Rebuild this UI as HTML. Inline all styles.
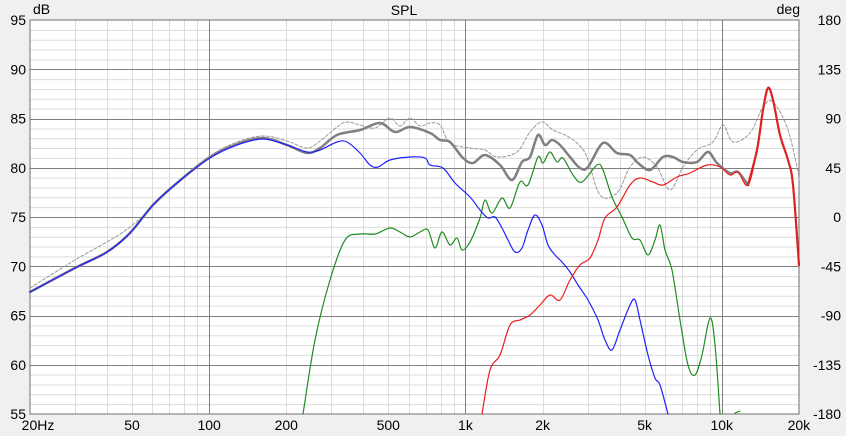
<!DOCTYPE html><html><head><style>body{margin:0;background:#f0f0f0}svg{display:block;font-family:"Liberation Sans",sans-serif}</style></head><body>
<svg id="s" width="846" height="436" xmlns="http://www.w3.org/2000/svg">
<rect x="0" y="0" width="846" height="436" fill="#f0f0f0"/>
<rect x="30" y="20" width="769" height="394" fill="#fff"/>
<g id="grid"></g>
<rect x="30" y="20" width="769" height="394" fill="none" stroke="#707070"/>
<g font-size="14" fill="#000">
<text x="404" y="15" text-anchor="middle">SPL</text>
<text x="33" y="14" font-size="14">dB</text>
<text x="800" y="14" text-anchor="end">deg</text>
</g>
<g id="lab" font-size="14"></g>
<g id="curves" fill="none" stroke-linejoin="round" stroke-linecap="round"></g>
</svg>
<script>
const g=document.getElementById('grid'),L=document.getElementById('lab'),C=document.getElementById('curves'),N='http://www.w3.org/2000/svg';
function ln(x1,y1,x2,y2,c){const l=document.createElementNS(N,'line');l.setAttribute('x1',x1);l.setAttribute('y1',y1);l.setAttribute('x2',x2);l.setAttribute('y2',y2);l.setAttribute('stroke',c);g.appendChild(l);}
function tx(x,y,t,a){const e=document.createElementNS(N,'text');e.setAttribute('x',x);e.setAttribute('y',y);e.setAttribute('text-anchor',a);e.textContent=t;L.appendChild(e);}
const X=f=>30+(Math.log10(f)-Math.log10(20))*256.3,Y=d=>20+(95-d)*9.85;
for(let d=56;d<95;d++){if(d%5)ln(30,Y(d)+.5,799,Y(d)+.5,'#dcdcdc');}
for(let dec=10;dec<=10000;dec*=10)for(let m=2;m<=9;m++){const f=dec*m;if(f>20&&f<20000)ln(Math.round(X(f))+.5,20,Math.round(X(f))+.5,414,'#dcdcdc');}
for(let d=60;d<95;d+=5)ln(30,Math.round(Y(d))+.5,799,Math.round(Y(d))+.5,'#808080');
[100,1000,10000].forEach(f=>ln(Math.round(X(f))+.5,20,Math.round(X(f))+.5,414,'#808080'));
for(let d=55;d<=95;d+=5)tx(26,Y(d)+5,d,'end');
for(let i=0;i<9;i++)tx(841,Y(95-i*5)+5,180-45*i,'end');
[[20,'20Hz'],[50,'50'],[100,'100'],[200,'200'],[500,'500'],[1000,'1k'],[2000,'2k'],[5000,'5k'],[10000,'10k'],[20000,'20k']].forEach(([f,t])=>tx(f==20?38:X(f),430,t,'middle'));
function curve(s,col,w,dash){const p=s.trim().split(/\s+/).map(q=>q.split(',').map(Number));let d='M'+p[0].join(',');
for(let i=0;i<p.length-1;i++){const p0=p[Math.max(0,i-1)],p1=p[i],p2=p[i+1],p3=p[Math.min(p.length-1,i+2)];
d+=` C${p1[0]+(p2[0]-p0[0])/6},${p1[1]+(p2[1]-p0[1])/6} ${p2[0]-(p3[0]-p1[0])/6},${p2[1]-(p3[1]-p1[1])/6} ${p2[0]},${p2[1]}`;}
const e=document.createElementNS(N,'path');e.setAttribute('d',d);e.setAttribute('stroke',col);e.setAttribute('stroke-width',w);if(dash)e.setAttribute('stroke-dasharray',dash);C.appendChild(e);}
curve("30,288 75,260 130,227 177,182 210,156 237,142 263,136 287,141 307,148 320,141 337,127 347,122 360,125 375,128 390,118 400,126 410,118 420,126 430,123 440,125 450,143 470,148 485,150 497,157 517,152 530,132 542,122 553,130 565,135 577,143 587,157 600,195 617,193 630,167 643,157 657,167 670,190 683,167 697,150 713,142 723,125 733,142 750,133 763,107 773,102 787,127 797,167 799,180","#999",1,"3,2");
curve("303,414 315,340 330,280 345,240 360,234 375,234 390,228 400,232 410,237 420,232 428,230 435,248 442,232 450,245 457,238 462,250 470,242 480,218 485,200 492,213 502,198 510,208 520,182 528,185 538,157 543,163 550,152 557,162 563,158 573,175 582,182 597,165 603,170 612,197 622,217 632,238 640,240 648,255 655,240 660,225 665,250 672,270 680,320 688,365 695,375 702,355 710,318 715,345 720,414","#228b22",1.2);
curve("735,413 740,411","#228b22",1.2);
curve("30,292 75,268 107,252 130,233 153,205 177,183 210,157 237,144 263,138 287,145 307,153 320,148 337,135 360,130 380,123 395,132 410,127 430,133 440,140 450,142 463,158 473,163 485,155 500,165 512,180 522,162 530,157 538,135 545,145 552,140 560,145 570,157 580,168 588,167 603,143 617,153 630,155 638,163 650,170 663,157 673,157 683,162 697,162 708,152 717,163 730,173 738,172 748,185","#808080",2.5);
curve("30,292 75,268 107,252 130,233 153,205 177,183 210,158 237,145 263,139 287,145 307,152 320,150 337,142 347,142 360,153 370,165 378,167 390,160 410,157 425,158 430,165 443,168 455,183 470,197 480,210 488,218 495,217 502,228 508,240 515,252 522,248 528,230 535,215 542,225 548,245 555,255 562,262 570,272 578,285 588,300 598,320 605,340 612,350 620,330 630,305 635,300 640,320 648,355 655,378 660,385 668,414","#2020ff",1.2);
curve("482,414 490,370 500,355 510,325 520,320 530,315 540,305 550,295 560,300 570,280 580,265 590,258 598,240 605,218 617,207 630,185 640,178 653,182 663,185 677,177 690,173 707,165 720,167 730,175 738,172 748,185 757,150 763,110 768,88 773,100 780,135 788,160 793,185 799,265","#ee1c1c",1.2);
curve("748,185 757,150 763,110 768,88 773,100 780,135 788,160 793,185 799,265","#dd2222",2.2);
</script>
</body></html>
